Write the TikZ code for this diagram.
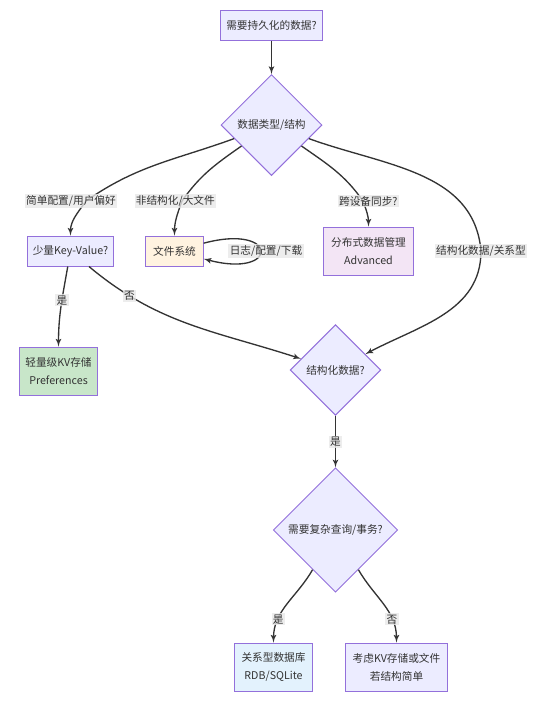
\documentclass[tikz,border=0pt]{standalone}
\usepackage{fontspec}
\setmainfont{Noto Sans CJK SC}
\usepackage{tikz}
\usetikzlibrary{shapes,arrows}
\definecolor{nodefill}{HTML}{ECECFF}
\definecolor{nodeline}{HTML}{9370DB}
\definecolor{filefill}{HTML}{FFF3E0}
\definecolor{syncfill}{HTML}{F3E5F5}
\definecolor{prefsfill}{HTML}{C8E6C9}
\definecolor{dbfill}{HTML}{E3F2FD}
\definecolor{edgegray}{HTML}{333333}
\definecolor{labelgray}{HTML}{E8E8E8}
\tikzstyle{decision} = [diamond, draw=nodeline, fill=nodefill, line width=0.75pt,
    text=edgegray, inner sep=0pt, aspect=1]
\tikzstyle{block} = [rectangle, draw=nodeline, fill=nodefill, line width=0.75pt,
    text=edgegray, align=center, minimum height=22.5pt]
\tikzstyle{tallblock} = [block, minimum height=36pt]
\tikzstyle{line} = [draw=edgegray, line width=1pt, -latex']
\tikzstyle{lab} = [fill=labelgray, fill opacity=0.8, text opacity=1,
    text=edgegray, inner sep=1pt]

\begin{document}
\begin{tikzpicture}[x=0.75pt, y=-0.75pt, font=\fontsize{8}{13.5}\selectfont]
\useasboundingbox (0,0) rectangle (545,704);

\node [block, minimum width=77pt] (start) at (271.5,25) {需要持久化的数据?};
\node [decision, below of=start, node distance=75pt, minimum size=75.75pt] (type) {数据类型/结构};
\node [block, below of=type, node distance=94.5pt, xshift=-150.75pt, minimum width=64pt] (kv) {少量Key-Value?};
\node [block, right of=kv, node distance=78pt, fill=filefill, minimum width=43pt] (files) {文件系统};
\node [tallblock, right of=files, node distance=145.5pt, fill=syncfill, minimum width=67pt] (sync) {分布式数据管理\\Advanced};
\node [tallblock, below of=kv, node distance=90pt, xshift=-9pt, fill=prefsfill, minimum width=59pt] (prefs) {轻量级KV存储\\Preferences};
\node [decision, below of=type, node distance=183.75pt, xshift=48pt, minimum size=68pt] (structured) {结构化数据?};
\node [decision, below of=structured, node distance=120pt, minimum size=93.3pt] (complex) {需要复杂查询/事务?};
\node [tallblock, below of=complex, node distance=102.75pt, xshift=-46.5pt, fill=dbfill, minimum width=58pt] (rdb) {关系型数据库\\RDB/SQLite};
\node [tallblock, right of=rdb, node distance=92.25pt, minimum width=76pt] (simple) {考虑KV存储或文件\\若结构简单};

% bends of the branches leaving the first decision
\coordinate (c1) at (86,201);
\coordinate (c2) at (182,201);
\coordinate (c3) at (363,201);
\coordinate (c4) at (481,251);

\path [line] (start) -- (type);
\path [line] (type) to[out=200, in=35] (c1) node[lab, xshift=-11.25pt] {简单配置/用户偏好} to[out=235, in=90] (kv);
\path [line] (type) to[out=215, in=55] (c2) node[lab, xshift=-5pt] {非结构化/大文件} to[out=250, in=90] (files);
\path [line] (type) to[out=-35, in=125] (c3) node[lab, xshift=4pt] {跨设备同步?} to[out=-70, in=90] (sync);
\path [line] (type) to[out=-20, in=95] (c4) node[lab] {结构化数据/关系型} to[out=-90, in=28] (structured);
\path [line] (files) to[out=15, in=-15, min distance=59pt] node[lab, xshift=4pt] {日志/配置/下载} (files);
\path [line] (kv) to[out=-100, in=90] node[lab, pos=0.42] {是} (prefs);
\path [line] (kv) to[out=-40, in=162] node[lab, pos=0.2] {否} (structured);
\path [line] (structured) -- node[lab] {是} (complex);
\path [line] (complex) to[out=240, in=90] node[lab, pos=0.72] {是} (rdb);
\path [line] (complex) to[out=-60, in=90] node[lab, pos=0.72] {否} (simple);
\end{tikzpicture}
\end{document}
